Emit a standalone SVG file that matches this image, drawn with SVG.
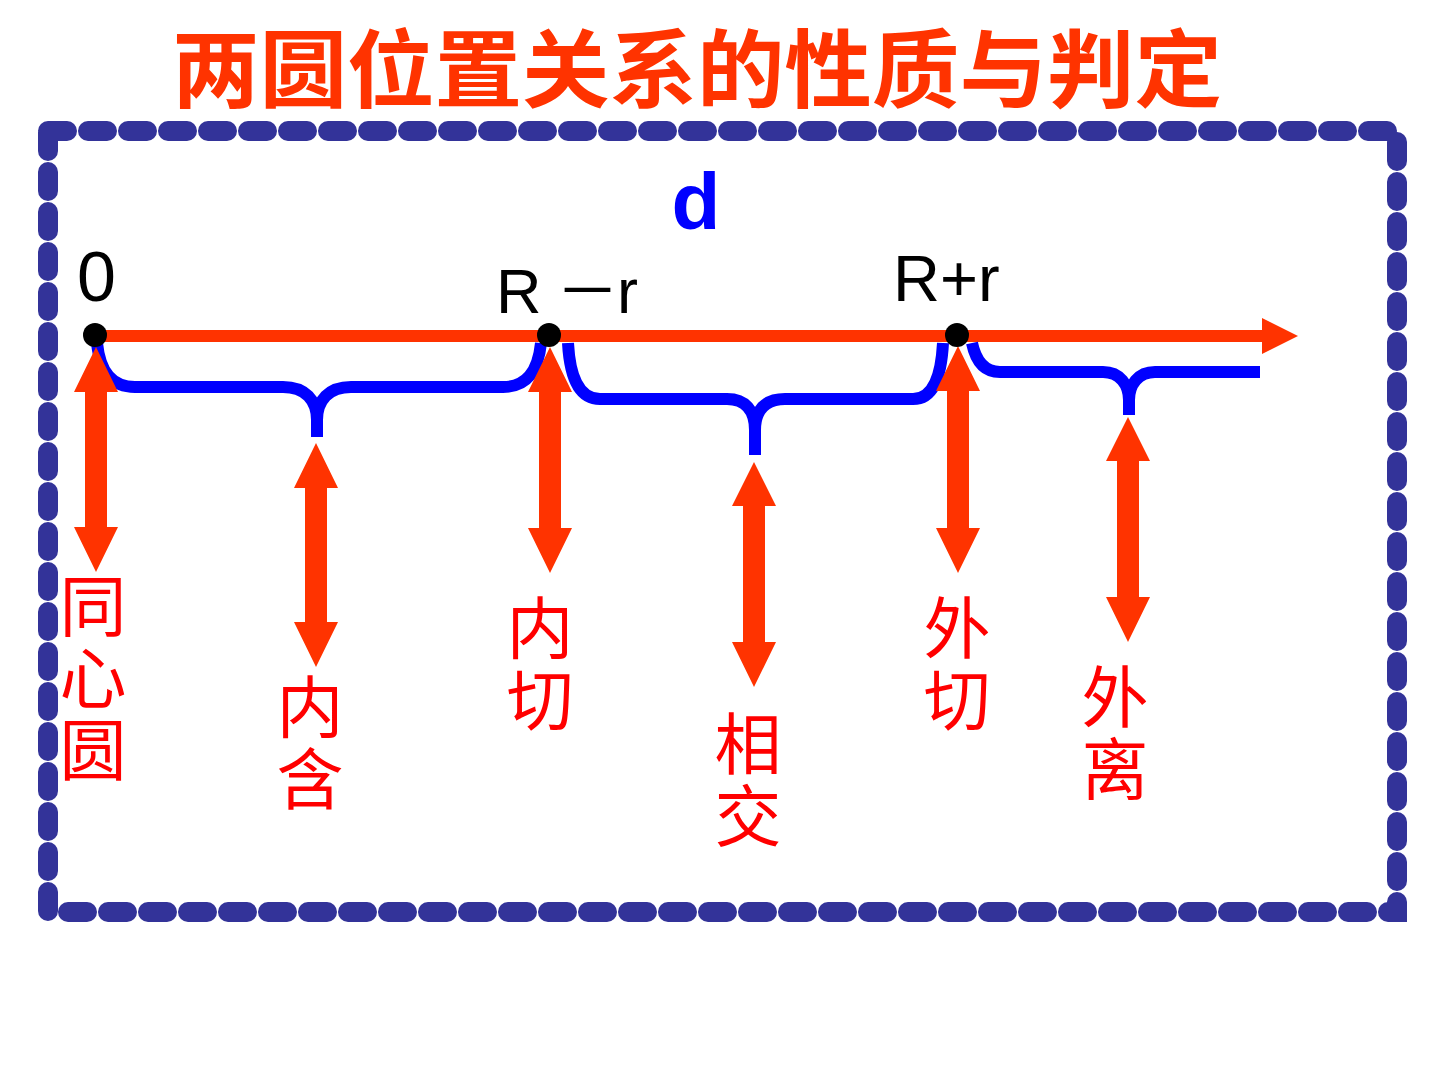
<svg xmlns="http://www.w3.org/2000/svg" width="1440" height="1080" viewBox="0 0 1440 1080">
<style>
.title{font-family:"Noto Sans CJK SC","Noto Sans",sans-serif;font-weight:bold;font-size:85px;fill:#FF3300}
.lbl{font-family:"Noto Sans CJK SC",sans-serif;font-size:67px;fill:#FF0000;writing-mode:vertical-rl;letter-spacing:5px}
.num{font-family:"Liberation Sans","Noto Sans CJK SC",sans-serif;fill:#000000}
.brace{fill:none;stroke:#0000FF;stroke-width:12}
.arr{fill:#FF3300}
</style>
<rect width="1440" height="1080" fill="#FFFFFF"/>
<text class="title" x="172" y="101" textLength="1050" lengthAdjust="spacingAndGlyphs">两圆位置关系的性质与判定</text>
<path d="M48,131 H1397 V912 H48 Z" fill="none" stroke="#333399" stroke-width="20" stroke-dasharray="19 21" stroke-linecap="round"/>
<g id="connectors">
<line x1="95" y1="336" x2="1266" y2="336" stroke="#FF3300" stroke-width="12"/>
<polygon class="arr" points="1262,318 1298,336 1262,354"/>
<path class="brace" d="M97,343 C100,372 112,387 135,387 L283,387 C305,387 317,400 317,420 L317,437 M317,420 C317,400 329,387 351,387 L503,387 C526,387 538,372 541,343"/>
<path class="brace" d="M568,343 C570,380 580,399 600,399 L727,399 C745,399 755,410 755,430 L755,455 M755,430 C755,410 765,399 785,399 L913,399 C932,399 941,380 943,343"/>
<path class="brace" d="M972,343 C976,362 985,372 1000,372 L1103,372 C1120,372 1129,385 1129,400 L1129,415 M1129,400 C1129,385 1138,372 1155,372 L1260,372"/>
<polygon class="arr" points="96,347 118,392 107,392 107,527 118,527 96,572 74,527 85,527 85,392 74,392"/>
<polygon class="arr" points="316,443 338,488 327,488 327,622 338,622 316,667 294,622 305,622 305,488 294,488"/>
<polygon class="arr" points="550,347 572,392 561,392 561,528 572,528 550,573 528,528 539,528 539,392 528,392"/>
<polygon class="arr" points="754,462 776,506 765,506 765,642 776,642 754,687 732,642 743,642 743,506 732,506"/>
<polygon class="arr" points="958,346 980,391 969,391 969,528 980,528 958,573 936,528 947,528 947,391 936,391"/>
<polygon class="arr" points="1128,417 1150,461 1139,461 1139,597 1150,597 1128,642 1106,597 1117,597 1117,461 1106,461"/>
</g>
<g id="point-0">
<circle cx="95" cy="335" r="12" fill="#000000"/>
<text class="num" x="77" y="301" font-size="70">0</text>
</g>
<g id="point-R-r">
<circle cx="549" cy="335" r="12" fill="#000000"/>
<text class="num" x="496" y="313" font-size="63">R<tspan x="556">－</tspan><tspan x="617">r</tspan></text>
</g>
<g id="point-Rr">
<circle cx="957" cy="335" r="12" fill="#000000"/>
<text class="num" x="893" y="301" font-size="65">R+r</text>
</g>
<g id="label-d">
<text x="696" y="229" font-family="Liberation Sans,sans-serif" font-weight="bold" font-size="80" fill="#0000FF" text-anchor="middle">d</text>
</g>
<g id="node-concentric"><text class="lbl" x="93" y="572">同心圆</text></g>
<g id="node-contain"><text class="lbl" x="310" y="673">内含</text></g>
<g id="node-inner-tangent"><text class="lbl" x="540" y="594">内切</text></g>
<g id="node-intersect"><text class="lbl" x="748" y="710">相交</text></g>
<g id="node-outer-tangent"><text class="lbl" x="957" y="594">外切</text></g>
<g id="node-separate"><text class="lbl" x="1115" y="663">外离</text></g>
</svg>
